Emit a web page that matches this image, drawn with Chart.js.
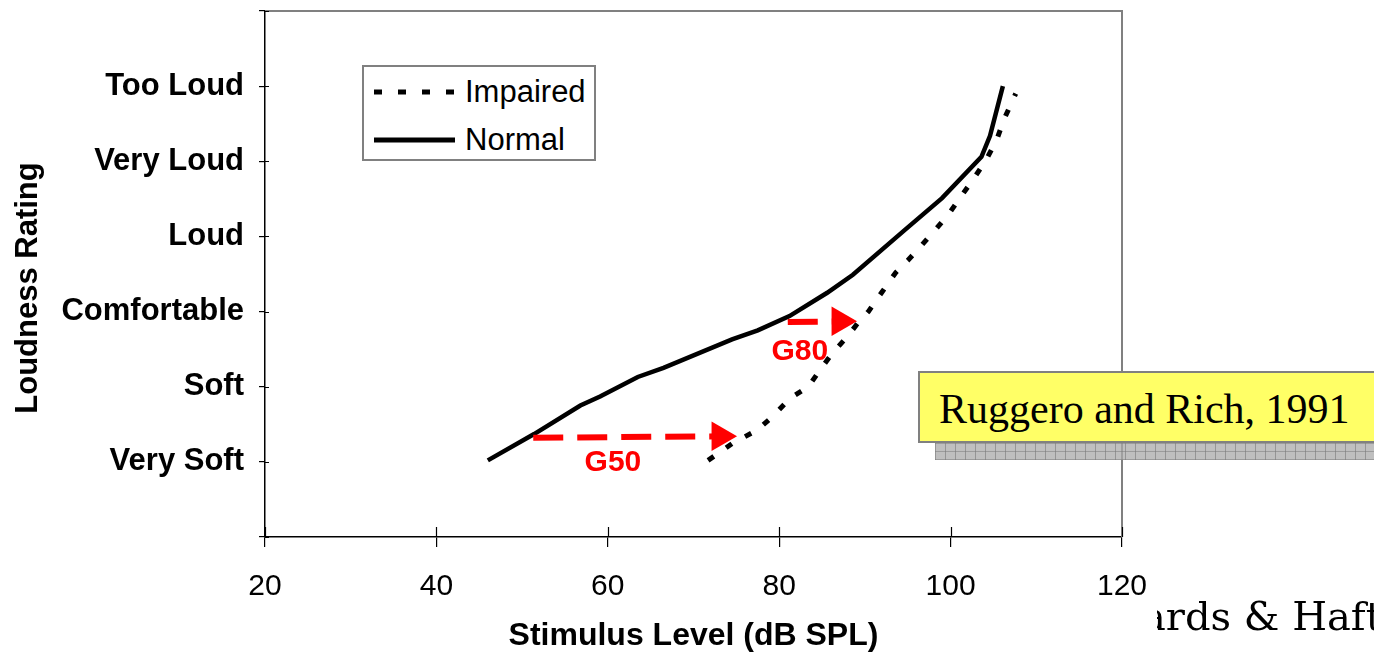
<!DOCTYPE html>
<html>
<head>
<meta charset="utf-8">
<title>Loudness growth</title>
<script src="https://cdn.jsdelivr.net/npm/chart.js@4/dist/chart.umd.min.js"></script>
<style>
  html, body { margin: 0; padding: 0; background: #fff; }
  #wrap { position: relative; width: 1374px; height: 655px; overflow: hidden; }
  #chart { position: absolute; left: 0; top: 0; }

  #legend {
    position: absolute; left: 362px; top: 65px; width: 230px; height: 92px;
    border: 2px solid #808080; background: #fff;
    font: 31px "Liberation Sans", Arial, sans-serif; color: #000;
  }
  #legend .row { position: absolute; left: 0; height: 40px; display: flex; align-items: center; }
  #legend svg { margin-left: 10px; margin-right: 10px; }

  /* citation note over the right edge of the plot */
  #noteShadow {
    position: absolute; left: 935px; top: 443px; width: 460px; height: 17px;
    background-color: rgba(170,170,170,0.75);
    background-image:
      repeating-linear-gradient(90deg, rgba(120,120,120,0.6) 0 1px, transparent 1px 10px),
      repeating-linear-gradient(0deg, rgba(120,120,120,0.5) 0 1px, transparent 1px 8px);
  }
  #note {
    position: absolute; left: 918px; top: 371px; width: 480px; height: 68px;
    background: #ffff66; border: 2px solid #808080;
  }
  #note span {
    position: absolute; left: 19px; top: 15px;
    font: 42px/1 "Liberation Serif", "Times New Roman", serif; color: #000; white-space: nowrap;
  }
  #credit {
    position: absolute; left: 1157px; top: 592px; width: 230px; height: 60px; overflow: hidden;
  }
  #credit span {
    position: absolute; left: -15px; top: 0;
    font: 40px/1.2 "DejaVu Serif", serif; color: #000; white-space: nowrap;
  }
</style>
</head>
<body>
<div id="wrap">
  <canvas id="chart" width="1374" height="655"></canvas>
  <div id="legend"></div>
  <div id="noteShadow"></div>
  <div id="note"><span>Ruggero and Rich, 1991</span></div>
  <div id="credit"><span>ards &amp; Haft</span></div>
</div>

<script>
// ---- data (dB SPL vs. loudness category index) ----
const ratingLabels = ["", "Very Soft", "Soft", "Comfortable", "Loud", "Very Loud", "Too Loud", ""];

const normalX = [46.0, 51.4, 56.8, 59.1, 63.5, 66.5, 74.5, 77.5, 81.2, 85.6, 88.6, 94.6, 99.0, 103.6, 104.6, 106.1];
const normalY = [1.02, 1.37, 1.75, 1.87, 2.13, 2.25, 2.63, 2.75, 2.94, 3.25, 3.49, 4.08, 4.51, 5.06, 5.34, 6.00];

const impairedX = [71.7, 74.6, 77.4, 79.2, 81.3, 83.4, 85.0, 86.3, 87.9, 89.2, 90.4, 92.0, 93.6, 95.0, 96.6, 98.0, 99.8, 101.2, 102.7, 104.2, 105.4, 106.2, 107.6];
const impairedY = [1.02, 1.25, 1.42, 1.60, 1.85, 2.00, 2.26, 2.46, 2.66, 2.85, 3.00, 3.26, 3.52, 3.68, 3.88, 4.06, 4.30, 4.53, 4.77, 5.03, 5.29, 5.55, 5.90];

// gain arrows: tail -> head
const g50X = [51.3, 73.1];
const g50Y = [1.32, 1.34];
const g80X = [81.0, 87.1];
const g80Y = [2.86, 2.87];

const arrowLabels = ["G50", "G80"];
const arrowLabelX = [60.6, 82.4];
const arrowLabelY = [0.99, 2.46];

const xTicks = [20, 40, 60, 80, 100, 120];
const yTitle = "Loudness Rating";

function toXY(xs, ys) {
  return xs.map((x, i) => ({ x: x, y: ys[i] }));
}

const SANS = '"Liberation Sans", Arial, sans-serif';
const RED = "#ff0000";

// top + right frame in grey (left / bottom come from the axes)
const framePlugin = {
  id: "frame",
  beforeDatasetsDraw(chart) {
    const a = chart.chartArea, ctx = chart.ctx;
    ctx.save();
    ctx.strokeStyle = "#808080";
    ctx.lineWidth = 2;
    ctx.beginPath();
    ctx.moveTo(a.left, a.top);
    ctx.lineTo(a.right, a.top);
    ctx.lineTo(a.right, a.bottom);
    ctx.stroke();
    ctx.restore();
  }
};

// tick marks cross the axis line: add the inner half
const crossTicksPlugin = {
  id: "crossTicks",
  beforeDatasetsDraw(chart) {
    const ctx = chart.ctx, a = chart.chartArea;
    const xs = chart.scales.x, ys = chart.scales.y;
    ctx.save();
    ctx.strokeStyle = "#000";
    ctx.lineWidth = 1.2;
    ctx.beginPath();
    xs.ticks.forEach(t => {
      const px = Math.round(xs.getPixelForValue(t.value)) + 0.5;
      ctx.moveTo(px, a.bottom);
      ctx.lineTo(px, a.bottom - 10);
    });
    ys.ticks.forEach(t => {
      const py = Math.round(ys.getPixelForValue(t.value)) + 0.5;
      ctx.moveTo(a.left, py);
      ctx.lineTo(a.left + 4, py);
    });
    ctx.stroke();
    ctx.restore();
  }
};

// G50 / G80 captions, and the y title (sits a little below the axis centre)
const textPlugin = {
  id: "texts",
  afterDatasetsDraw(chart) {
    const ctx = chart.ctx, a = chart.chartArea;
    ctx.save();
    ctx.fillStyle = RED;
    ctx.font = "bold 30px " + SANS;
    ctx.textAlign = "center";
    ctx.textBaseline = "middle";
    arrowLabels.forEach((txt, i) => {
      ctx.fillText(txt,
        chart.scales.x.getPixelForValue(arrowLabelX[i]),
        chart.scales.y.getPixelForValue(arrowLabelY[i]));
    });
    ctx.fillStyle = "#000";
    ctx.font = "bold 31px " + SANS;
    ctx.translate(28, (a.top + a.bottom) / 2 + 14);
    ctx.rotate(-Math.PI / 2);
    ctx.fillText(yTitle, 0, 0);
    ctx.restore();
  }
};

function arrowDataset(xs, ys) {
  return {
    data: toXY(xs, ys),
    borderColor: RED,
    backgroundColor: RED,
    borderWidth: 6,
    borderDash: [30, 14],
    borderCapStyle: "butt",
    pointRadius: [0, 17],
    pointStyle: "triangle",
    pointRotation: 90,
    pointBorderWidth: 0,
    pointBackgroundColor: RED,
    order: 0,
    legend: false
  };
}

const datasets = [
  {
    label: "Impaired",
    data: toXY(impairedX, impairedY),
    borderColor: "#000",
    borderWidth: 5,
    borderDash: [7, 15],
    borderCapStyle: "butt",
    pointRadius: 0,
    tension: 0,
    order: 1,
    legend: true
  },
  {
    label: "Normal",
    data: toXY(normalX, normalY),
    borderColor: "#000",
    borderWidth: 4.5,
    pointRadius: 0,
    tension: 0,
    order: 2,
    legend: true
  },
  arrowDataset(g50X, g50Y),
  arrowDataset(g80X, g80Y)
];

new Chart(document.getElementById("chart"), {
  type: "line",
  data: { datasets },
  options: {
    responsive: false,
    animation: false,
    events: [],
    // big arrow heads would otherwise add auto padding round the plot
    layout: { autoPadding: false, padding: { left: 0, top: 11, right: 252, bottom: 0 } },
    plugins: {
      legend: { display: false },
      tooltip: { enabled: false }
    },
    scales: {
      x: {
        type: "linear",
        min: 20,
        max: 120,
        afterBuildTicks(scale) {
          scale.ticks = xTicks.map(v => ({ value: v }));
        },
        afterFit(scale) { scale.height = 118; },
        ticks: {
          color: "#000",
          font: { family: SANS, size: 30 },
          padding: 22,
          maxRotation: 0
        },
        grid: { drawOnChartArea: false, color: "#000", tickLength: 10, lineWidth: 1.2 },
        border: { color: "#000", width: 1.5 },
        title: {
          display: true,
          text: "Stimulus Level (dB SPL)",
          color: "#000",
          font: { family: SANS, size: 32, weight: "bold" },
          padding: { top: 0, bottom: 0 }
        }
      },
      y: {
        type: "linear",
        min: 0,
        max: 7,
        afterFit(scale) {
          scale.width = 265;
          scale.paddingTop = 0;
          scale.paddingBottom = 0;
        },
        ticks: {
          stepSize: 1,
          color: "#000",
          font: { family: SANS, size: 31, weight: "bold" },
          padding: 15,
          callback: v => ratingLabels[v]
        },
        grid: { drawOnChartArea: false, color: "#000", tickLength: 6, lineWidth: 1.2 },
        border: { color: "#000", width: 1.5 }
      }
    }
  },
  plugins: [framePlugin, crossTicksPlugin, textPlugin]
});

// manual legend built from the line datasets
(function buildLegend() {
  const box = document.getElementById("legend");
  const rowTops = [5, 53];
  datasets.filter(d => d.legend).forEach((d, i) => {
    const row = document.createElement("div");
    row.className = "row";
    row.style.top = rowTops[i] + "px";
    const dash = d.borderDash ? 'stroke-dasharray="8 16"' : "";
    row.innerHTML =
      '<svg width="81" height="10"><line x1="0" y1="5" x2="81" y2="5" stroke="#000" stroke-width="5" ' + dash + '/></svg>' +
      '<span>' + d.label + '</span>';
    box.appendChild(row);
  });
})();
</script>
</body>
</html>
